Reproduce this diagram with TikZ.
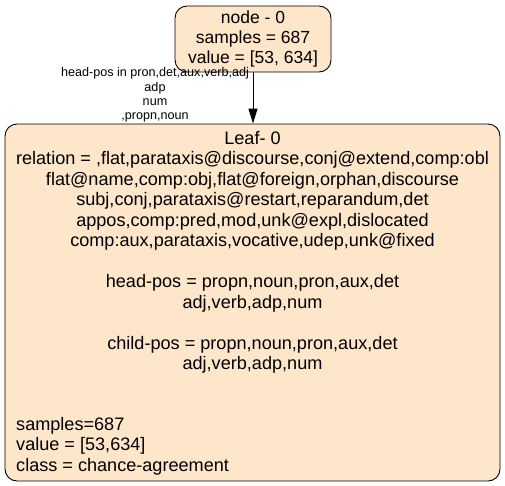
\documentclass[tikz,border=0pt]{standalone}
\usepackage{fontspec}
\setmainfont{Liberation Sans}
\usetikzlibrary{arrows.meta}
\definecolor{nodefill}{RGB}{253,230,201}
\tikzset{
  treebox/.style={draw=black, line width=0.9pt, fill=nodefill, rounded corners=12pt, inner sep=0pt},
  boxtext/.style={font=\fontsize{17.5}{20.4}\selectfont, inner sep=0pt},
  leaftext/.style={font=\fontsize{18.1}{20.5}\selectfont, inner sep=0pt},
  edgelabel/.style={font=\fontsize{12.6}{14.3}\selectfont, inner sep=0pt, align=center},
  edgeline/.style={line width=0.9pt, -{Triangle[length=15pt,width=9pt]}}
}
\begin{document}
\begin{tikzpicture}[x=1pt,y=-1pt]
\useasboundingbox (0,0) rectangle (505,485);
\node[treebox, minimum width=156pt, minimum height=66pt, boxtext, align=center] (n0) at (253,39)
  {node - 0\\samples = 687\\value = [53, 634]};
\node[treebox, minimum width=495pt, minimum height=357pt] (leaf) at (252.5,302.5) {};
\node[leaftext, align=center, anchor=north] (leaftop) at (252.5,131)
  {Leaf- 0\\
   relation = ,flat,parataxis@discourse,conj@extend,comp:obl\\
   flat@name,comp:obj,flat@foreign,orphan,discourse\\
   subj,conj,parataxis@restart,reparandum,det\\
   appos,comp:pred,mod,unk@expl,dislocated\\
   comp:aux,parataxis,vocative,udep,unk@fixed\\
   ~\\
   head-pos = propn,noun,pron,aux,det\\
   adj,verb,adp,num\\
   ~\\
   child-pos = propn,noun,pron,aux,det\\
   adj,verb,adp,num};
\node[leaftext, align=left, anchor=north west] (leafbot) at (16,417)
  {samples=687\\value = [53,634]\\class = chance-agreement};
\draw[edgeline] (n0.south) -- (n0.south |- leaf.north);
\node[edgelabel] (el) at (155,95)
  {head-pos in pron,det,aux,verb,adj\\adp\\num\\,propn,noun};
\end{tikzpicture}
\end{document}
